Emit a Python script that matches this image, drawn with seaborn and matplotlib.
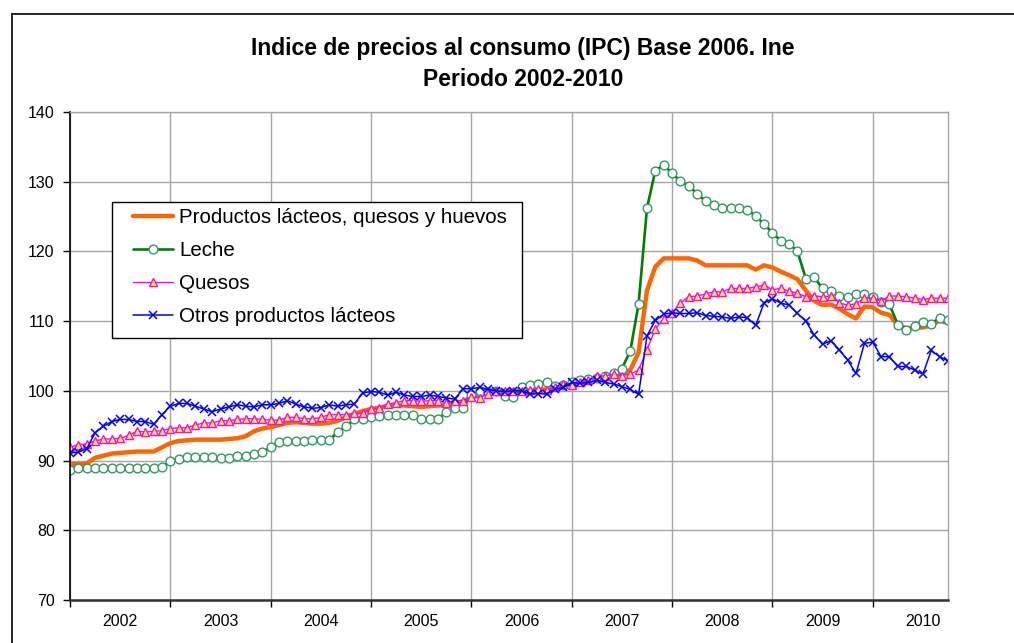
import numpy as np
import pandas as pd
import matplotlib
matplotlib.use("Agg")
import matplotlib.pyplot as plt
from matplotlib.patches import Rectangle
from matplotlib.lines import Line2D
import seaborn as sns

years = ["2002", "2003", "2004", "2005", "2006", "2007", "2008", "2009", "2010"]

# Monthly values, Jan 2002 .. Oct 2010
productos = [
    89.5, 89.5, 89.6, 90.4, 90.7, 91.0, 91.1, 91.2, 91.3, 91.3, 91.3, 91.9,
    92.5, 92.8, 92.9, 93.0, 93.0, 93.0, 93.0, 93.1, 93.2, 93.5, 94.2, 94.6,
    94.8, 95.1, 95.4, 95.5, 95.4, 95.3, 95.3, 95.4, 95.7, 96.2, 96.7, 97.1,
    97.4, 97.6, 97.8, 97.9, 97.9, 97.8, 97.7, 97.8, 97.9, 97.9, 98.1, 98.5,
    99.1, 99.4, 99.8, 100.0, 100.0, 100.0, 100.0, 100.1, 100.2, 100.2, 100.5, 100.8,
    101.1, 101.3, 101.5, 101.8, 102.0, 102.2, 102.4, 103.0, 105.5, 114.4, 117.8, 119.0,
    119.0, 119.0, 119.0, 118.7, 118.0, 118.0, 118.0, 118.0, 118.0, 118.0, 117.4, 118.0,
    117.7, 117.1, 116.6, 116.0, 114.4, 112.9, 112.3, 112.4, 111.8, 111.0, 110.4, 112.1,
    112.0, 111.2, 110.9, 109.4, 109.0, 109.0, 109.1, 109.4, 110.1, 109.7,
]
leche = [
    88.6, 88.9, 88.9, 88.9, 88.9, 88.9, 88.9, 89.0, 89.0, 89.0, 89.0, 89.1,
    89.9, 90.2, 90.5, 90.5, 90.5, 90.5, 90.3, 90.3, 90.6, 90.7, 90.9, 91.2,
    91.9, 92.7, 92.8, 92.8, 92.8, 92.9, 92.9, 92.9, 94.1, 94.9, 95.9, 96.0,
    96.2, 96.4, 96.5, 96.5, 96.5, 96.6, 96.0, 96.0, 96.0, 96.9, 97.5, 97.6,
    99.4, 100.0, 99.8, 100.0, 99.3, 99.1, 100.5, 100.9, 101.0, 101.2, 100.7, 100.9,
    101.2, 101.5, 101.7, 101.9, 102.1, 102.5, 103.2, 105.7, 112.5, 126.2, 131.6, 132.4,
    131.2, 130.1, 129.4, 128.3, 127.2, 126.6, 126.2, 126.3, 126.3, 126.0, 125.1, 123.9,
    122.7, 121.5, 121.1, 120.0, 116.1, 116.3, 114.7, 114.3, 113.6, 113.5, 113.9, 113.9,
    113.5, 112.8, 112.4, 109.5, 108.7, 109.3, 109.9, 109.6, 110.5, 110.1,
]
quesos = [
    91.9, 92.3, 92.4, 92.8, 93.1, 93.1, 93.2, 93.6, 94.2, 94.1, 94.2, 94.3,
    94.6, 94.7, 94.7, 95.1, 95.4, 95.4, 95.7, 95.7, 95.9, 96.0, 96.0, 95.9,
    95.8, 95.8, 96.2, 96.2, 96.0, 96.0, 96.2, 96.6, 96.6, 96.6, 96.8, 96.8,
    97.4, 97.6, 98.1, 98.3, 98.6, 98.6, 98.5, 98.6, 98.6, 98.3, 98.6, 98.6,
    99.1, 99.0, 99.6, 100.0, 100.0, 100.0, 100.0, 100.1, 100.2, 100.1, 100.5, 101.0,
    100.9, 101.2, 101.5, 102.2, 102.1, 102.4, 102.2, 102.4, 103.0, 105.9, 108.9, 110.3,
    111.2, 112.6, 113.5, 113.6, 113.9, 114.2, 114.2, 114.7, 114.7, 114.7, 114.9, 115.2,
    114.5, 114.7, 114.3, 114.0, 113.5, 113.6, 113.5, 113.6, 112.6, 112.3, 112.5, 113.3,
    113.3, 112.9, 113.6, 113.6, 113.5, 113.3, 113.1, 113.3, 113.3, 113.3,
]
otros = [
    91.1, 91.2, 91.7, 94.0, 94.9, 95.6, 95.9, 95.9, 95.6, 95.6, 95.2, 96.6,
    97.8, 98.2, 98.2, 97.8, 97.4, 97.0, 97.4, 97.7, 98.0, 97.8, 97.7, 98.0,
    98.0, 98.2, 98.6, 98.1, 97.7, 97.5, 97.6, 98.0, 97.8, 98.0, 98.1, 99.7,
    99.9, 99.8, 99.4, 99.8, 99.4, 99.2, 99.2, 99.4, 99.2, 99.0, 98.8, 100.3,
    100.3, 100.5, 100.2, 100.0, 99.9, 100.0, 100.0, 99.6, 99.6, 99.6, 100.2, 100.5,
    101.2, 101.1, 101.2, 101.5, 101.2, 101.0, 100.6, 100.2, 99.5, 107.9, 110.1, 111.0,
    111.2, 111.1, 111.1, 111.2, 110.8, 110.7, 110.6, 110.4, 110.6, 110.5, 109.4, 112.6,
    113.2, 112.6, 112.3, 111.1, 110.0, 108.0, 106.7, 107.2, 105.9, 104.4, 102.5, 106.8,
    107.0, 104.9, 104.9, 103.5, 103.5, 103.0, 102.4, 105.8, 104.9, 104.3,
]

labels = [
    "Productos lácteos, quesos y huevos",
    "Leche",
    "Quesos",
    "Otros productos lácteos",
]

month = np.arange(len(productos))
df = pd.DataFrame({"mes": month, labels[0]: productos, labels[1]: leche,
                   labels[2]: quesos, labels[3]: otros})

sns.set_theme(style="white")
plt.rcParams["font.family"] = ["Liberation Sans", "DejaVu Sans"]

W, H = 1014, 643
fig = plt.figure(figsize=(W / 100, H / 100), dpi=100)
fig.patch.set_facecolor("white")
ax = fig.add_axes([70 / W, 1 - 600 / H, 878 / W, 488 / H])

styles = [
    dict(color="#FF6600", linewidth=3.2, marker=None),
    dict(color="#008000", linewidth=1.9, marker="o", markersize=6.3,
         markerfacecolor="white", markeredgecolor="#339966", markeredgewidth=1.0),
    dict(color="#FF00FF", linewidth=1.0, marker="^", markersize=5.5,
         markerfacecolor="#FFFF00", markeredgecolor="#FF00FF", markeredgewidth=1.0),
    dict(color="#0000FF", linewidth=1.1, marker="x", markersize=5.5,
         markeredgecolor="#0000FF", markeredgewidth=1.1),
]
for lab, st in zip(labels, styles):
    sns.lineplot(data=df, x="mes", y=lab, ax=ax, label=lab, **st)

n = len(productos)
ax.set_xlim(0, n - 1)
ax.set_ylim(70, 140)
ax.set_yticks(np.arange(70, 141, 10))
ax.set_xticks(np.arange(0, n, 12))
ax.set_xticklabels([])
minor_pos = [6 + 12 * k for k in range(len(years) - 1)] + [102]
ax.set_xticks(minor_pos, minor=True)
ax.set_xticklabels(years, minor=True)
ax.set_xlabel("")
ax.set_ylabel("")

ax.grid(True, which="major", color="#A6A6A6", linewidth=1.0)
ax.set_axisbelow(True)
ax.tick_params(axis="y", which="major", direction="out", length=5, width=1,
               color="black", pad=6, labelsize=11.5, left=True)
ax.tick_params(axis="x", which="major", direction="out", length=5, width=1,
               color="black", bottom=True)
ax.tick_params(axis="x", which="minor", length=0, pad=10, labelsize=11.5)
for lab in ax.get_yticklabels() + ax.get_xticklabels(minor=True):
    lab.set_color("black")

for side in ["top", "right"]:
    ax.spines[side].set_color("#A6A6A6")
    ax.spines[side].set_linewidth(1.0)
ax.spines["left"].set_color("black")
ax.spines["left"].set_linewidth(1.2)
ax.spines["bottom"].set_color("#333333")
ax.spines["bottom"].set_linewidth(1.8)

# Legend box
x0, x1 = (112 - 70) / 878, (522 - 70) / 878
y0, y1 = (600 - 338) / 488, (600 - 202) / 488
ax.add_patch(Rectangle((x0, y0), x1 - x0, y1 - y0, transform=ax.transAxes,
                       facecolor="white", edgecolor="black", linewidth=1.0, zorder=5))
leg = ax.legend(loc="upper left", bbox_to_anchor=((133 - 70) / 878, (600 - 208) / 488),
                frameon=False, fontsize=14.8, handlelength=1.95, handletextpad=0.3,
                borderpad=0, borderaxespad=0, labelspacing=0.68)
leg.set_zorder(6)
for t in leg.get_texts():
    t.set_color("black")

# Title
fig.text(523 / W, 1 - 48 / H, "Indice de precios al consumo (IPC) Base 2006. Ine",
         ha="center", va="center", fontsize=16.5, fontweight="bold", color="black")
fig.text(523 / W, 1 - 79 / H, "Periodo 2002-2010",
         ha="center", va="center", fontsize=16.5, fontweight="bold", color="black")

# Chart area border
fig.add_artist(Line2D([12 / W, 1.0], [1 - 14 / H, 1 - 14 / H], transform=fig.transFigure,
                      color="black", linewidth=1.2))
fig.add_artist(Line2D([12 / W, 12 / W], [0.0, 1 - 14 / H], transform=fig.transFigure,
                      color="black", linewidth=1.2))

fig.savefig("out.png", dpi=100, facecolor="white")
